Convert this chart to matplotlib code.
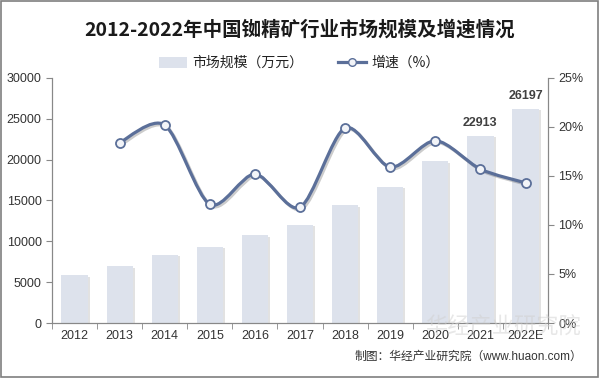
import matplotlib
matplotlib.use('Agg')
from matplotlib import pyplot as plt
from matplotlib.path import Path
from matplotlib.patches import PathPatch, Rectangle
from matplotlib.lines import Line2D
import matplotlib.patheffects as pe
import numpy as np

plt.rcParams['font.family'] = ['Noto Sans CJK SC', 'DejaVu Sans']

# data
years = ['2012', '2013', '2014', '2015', '2016', '2017', '2018', '2019', '2020', '2021', '2022E']
market = [5850, 6920, 8320, 9330, 10750, 12010, 14400, 16700, 19800, 22913, 26197]
growth_years = years[1:]
growth = [18.4, 20.2, 12.1, 15.2, 11.8, 19.9, 15.9, 18.6, 15.7, 14.3]

bar_color = '#dde2ec'
line_color = '#5b6f99'
axis_color = '#888888'
text_color = '#333333'
num_font = ['Liberation Sans', 'DejaVu Sans']

fig = plt.figure(figsize=(5.99, 3.78), dpi=100)
ax = fig.add_axes([0.0868, 0.1455, 0.8282, 0.6482])
ax2 = ax.twinx()

x = np.arange(len(years))
shadow = [pe.SimplePatchShadow(offset=(1.5, -1), shadow_rgbFace='#a0a0a0', alpha=0.3), pe.Normal()]
bars = ax.bar(x, market, width=0.58, color=bar_color, zorder=2)
for b in bars:
    b.set_path_effects(shadow)

# labels on last two bars
for i in [9, 10]:
    ax.text(x[i], market[i] + 900, str(market[i]), ha='center', va='bottom',
            fontsize=9, fontweight='bold', color='#404040', family=num_font)

ax.set_xlim(-0.5, 10.5)
ax.set_ylim(0, 30000)
ax.set_yticks(range(0, 30001, 5000))
ax.set_xticks(x)
ax.set_xticklabels(years, family=num_font)
ax.set_xticks(np.arange(-0.5, 10.6, 1), minor=True)
ax.tick_params(axis='x', which='major', length=0, labelsize=9, colors=text_color, pad=5)
ax.tick_params(axis='x', which='minor', length=4, color=axis_color, direction='out')
ax.tick_params(axis='y', labelsize=9, colors=text_color, length=4, color=axis_color)
for lab in ax.get_yticklabels():
    lab.set_family(num_font)

# smooth line for growth (catmull-rom -> bezier)
gx = x[1:].astype(float)
gy = np.array(growth, dtype=float)
verts = [(gx[0], gy[0])]
codes = [Path.MOVETO]
for i in range(len(gx) - 1):
    p0 = (gx[i - 1], gy[i - 1]) if i > 0 else (gx[i], gy[i])
    p1 = (gx[i], gy[i])
    p2 = (gx[i + 1], gy[i + 1])
    p3 = (gx[i + 2], gy[i + 2]) if i + 2 < len(gx) else (gx[i + 1], gy[i + 1])
    t = 1 / 7
    c1 = (p1[0] + (p2[0] - p0[0]) * t, p1[1] + (p2[1] - p0[1]) * t)
    c2 = (p2[0] - (p3[0] - p1[0]) * t, p2[1] - (p3[1] - p1[1]) * t)
    verts += [c1, c2, p2]
    codes += [Path.CURVE4] * 3
curve = PathPatch(Path(verts, codes), facecolor='none', edgecolor=line_color, lw=2.3, zorder=3,
                  path_effects=[pe.SimpleLineShadow(offset=(1.2, -1.2), alpha=0.2), pe.Normal()])
ax2.add_patch(curve)
ax2.plot(gx, gy, linestyle='none', marker='o', markersize=6.5, markerfacecolor='#f2f4f8',
         markeredgecolor=line_color, markeredgewidth=1.3, zorder=4)
ax2.set_ylim(0, 25)
ax2.set_yticks(range(0, 26, 5))
ax2.set_yticklabels([f'{v}%' for v in range(0, 26, 5)], family=num_font)
ax2.tick_params(axis='y', labelsize=9, colors=text_color, length=4, color=axis_color)

for a in (ax, ax2):
    a.spines['top'].set_visible(False)
    for s in ('left', 'right', 'bottom'):
        a.spines[s].set_color(axis_color)
        a.spines[s].set_linewidth(0.8)

# title and legend
fig.text(0.5, 0.922, '2012-2022年中国铷精矿行业市场规模及增速情况', ha='center', va='center',
         fontsize=14, fontweight='bold', color='#1a1a1a')
handles = [Rectangle((0, 0), 1, 1, facecolor=bar_color),
           Line2D([0], [0], color=line_color, lw=2.3, marker='o', markersize=5.5,
                  markerfacecolor='#f2f4f8', markeredgecolor=line_color)]
fig.legend(handles, ['市场规模（万元）', '增速（%）'], loc='center', bbox_to_anchor=(0.5, 0.833),
           ncol=2, frameon=False, fontsize=10, handlelength=2.0, handleheight=0.8,
           handletextpad=0.4, columnspacing=2.5, labelcolor='#222222')

# watermark and source
fig.text(0.97, 0.135, '华经产业研究院', ha='right', va='center', fontsize=16, color='#d0d0d0', alpha=0.5,
         zorder=0)
fig.text(0.972, 0.055, '制图：华经产业研究院（www.huaon.com）', ha='right', va='center',
         fontsize=8.5, color=text_color, family=['Liberation Sans', 'Noto Sans CJK SC'])

fig.patches.append(Rectangle((0.002, 0.003), 0.996, 0.994, transform=fig.transFigure,
                             fill=False, edgecolor='#7f7f7f', lw=1.2))

plt.savefig('out.png', dpi=100)
